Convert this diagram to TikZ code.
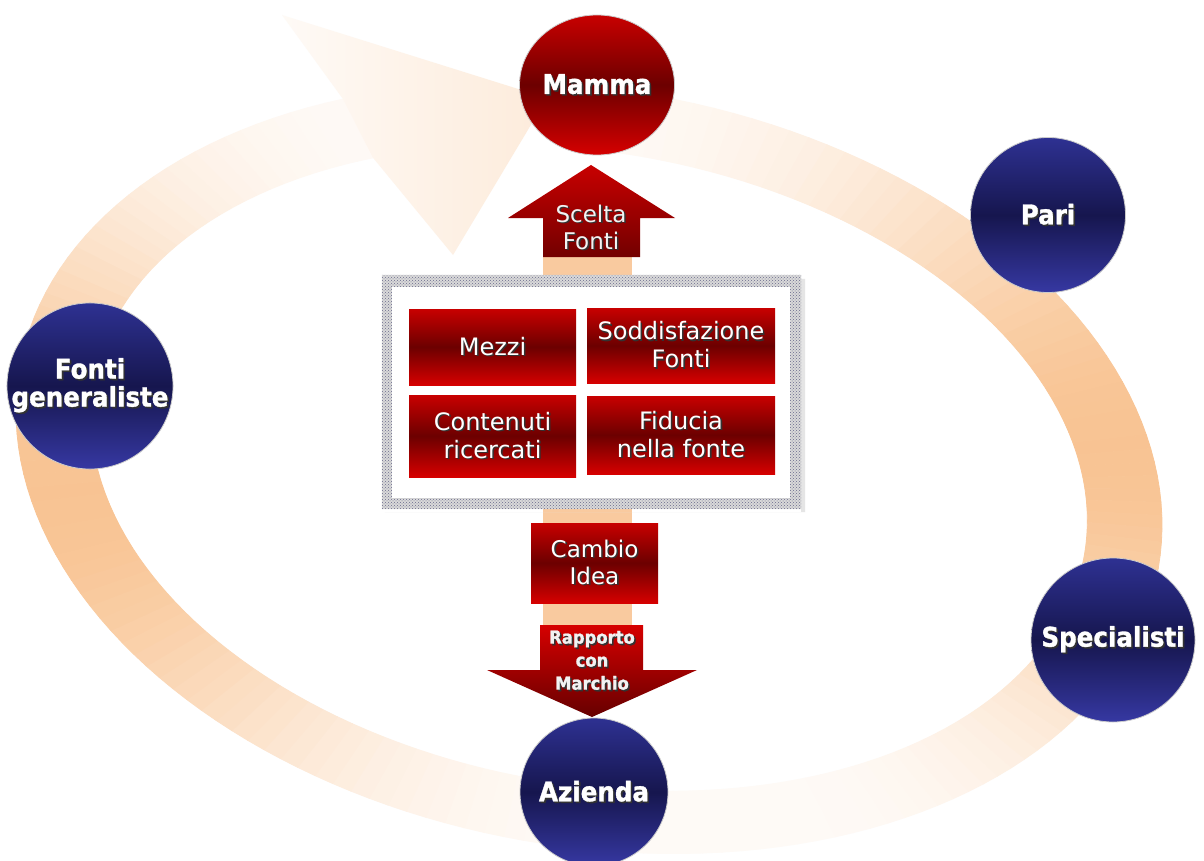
\documentclass[tikz,border=0pt]{standalone}
\usepackage{fontspec}
\setmainfont{DejaVu Sans}
\newfontfamily\hubfont[FakeStretch=0.91,BoldFeatures={FakeBold=1.2}]{DejaVu Sans}
\usepackage{tikz}
\usetikzlibrary{calc,shapes.geometric,patterns,positioning}
\definecolor{bandorange}{RGB}{248,193,142}
\definecolor{redtop}{RGB}{200,0,0}
\definecolor{redmid}{RGB}{108,0,0}
\definecolor{redbot}{RGB}{214,0,0}
\definecolor{bluetop}{RGB}{46,49,146}
\definecolor{bluemid}{RGB}{22,22,78}
\definecolor{bluebot}{RGB}{54,56,162}
\definecolor{dotgrey}{RGB}{105,105,140}
% white text with a dark shadow
\newcommand{\shd}[1]{\makebox[0pt][l]{\hspace{1.6pt}\raisebox{-1.6pt}{\color{black!80}#1}}#1}

\begin{document}
\begin{tikzpicture}[x=1pt,y=-1pt]

\tikzset{hub/.style={circle,minimum size=164pt,inner sep=0pt,align=center,text=white,draw=black!20,line width=0.8pt,font=\hubfont\bfseries\fontsize{27}{28}\selectfont,top color=bluetop,bottom color=bluebot,middle color=bluemid},
redhub/.style={hub,top color=redtop,bottom color=redbot,middle color=redmid},
factor/.style={rectangle,inner sep=0pt,align=center,text=white,font=\fontsize{24}{28}\selectfont,top color=redtop,bottom color=redbot,middle color=redmid},
arrowtext/.style={align=center,inner sep=0pt,text=white!95!black,font=\fontsize{23}{27}\selectfont},
bandslice/.style={fill=bandorange!#1!white,draw=bandorange!#1!white,line width=0.8pt,line join=round}}

\useasboundingbox (0,0) rectangle (1204,861);
\clip (0,0) rectangle (1204,861);
\fill[white] (0,0) rectangle (1204,861);

% Ring band
\begin{scope}[shift={(589,468)},rotate=-10]
\foreach \t in {-94,-92,...,236} {
  \pgfmathsetmacro\q{(1.002+cos(2*\t+40))/2}
  \pgfmathtruncatemacro\p{8+88*\q*sqrt(\q)}
  \fill[bandslice=\p] ({\t}:578 and 378) -- ({\t+2}:578 and 378) -- ({\t+2}:503 and 316) -- ({\t}:503 and 316) -- cycle;
}
\coordinate (bandout) at (238:578 and 378);
\coordinate (bandin) at (238:503 and 316);
\end{scope}

% Ring arrow head
\coordinate (barbout) at (282,15);
\coordinate (barbin) at (453,255);
\coordinate (ringtip) at (547,98);
\shade[left color=bandorange!8!white,right color=bandorange!32!white] (bandout) -- (barbout) -- (ringtip) -- (barbin) -- (bandin) -- cycle;

% Vertical bar behind the panel
\fill[bandorange!85!white] (543,250) rectangle (632,632);

% Central panel
\node (panel) [rectangle,fill=white,minimum width=419pt,minimum height=234pt,inner sep=0pt] at (591.5,392) {};
\fill[black!10] ([shift={(3,3)}]panel.south west) rectangle ([shift={(4,3)}]panel.south east) ([shift={(0,4)}]panel.north east) rectangle ([shift={(4,3)}]panel.south east);
\fill[black!15,even odd rule] (panel.north west) rectangle (panel.south east) ([shift={(10,12)}]panel.north west) rectangle ([shift={(-11,-11)}]panel.south east);
\fill[pattern=crosshatch dots,pattern color=dotgrey,even odd rule] (panel.north west) rectangle (panel.south east) ([shift={(10,12)}]panel.north west) rectangle ([shift={(-11,-11)}]panel.south east);

% Factors
\node (mezzi) [factor,minimum width=167pt,minimum height=76pt] at (492.5,347) {\shd{Mezzi}};
\node (soddisfazione) [factor,minimum width=188pt,minimum height=75pt] at (681,345.5) {\shd{Soddisfazione}\\\shd{Fonti}};
\node (contenuti) [factor,minimum width=167pt,minimum height=82pt] at (492.5,436) {\shd{Contenuti}\\\shd{ricercati}};
\node (fiducia) [factor,minimum width=188pt,minimum height=78pt] at (681,435) {\shd{Fiducia}\\\shd{nella fonte}};
\node (cambio) [factor,minimum width=127pt,minimum height=80pt,font=\fontsize{23}{27}\selectfont] at (594.5,563) {\shd{Cambio}\\\shd{Idea}};

% Arrows
\shade[top color=redtop,bottom color=red!45!black] (543,257) -- (543,218) -- (508,218) -- (591,165) -- (675,218) -- (640,218) -- (640,257) -- cycle;
\node (scelta) [arrowtext] at (591,228) {\shd{Scelta}\\\shd{Fonti}};
\shade[top color=redbot,bottom color=red!40!black] (540,625) -- (643,625) -- (643,670) -- (697,670) -- (592,717) -- (487,670) -- (540,670) -- cycle;
\node (rapporto) [arrowtext,font=\hubfont\bfseries\fontsize{18}{23}\selectfont] at (592,661) {\shd{Rapporto}\\\shd{con}\\\shd{Marchio}};

% Hubs
\node (mamma) [redhub,ellipse,minimum width=155pt,minimum height=140pt] at (597,85) {\shd{Mamma}};
\node (pari) [hub,minimum size=155pt] at (1048,215) {\shd{Pari}};
\node (specialisti) [hub] at (1113,640) {\shd{Specialisti}};
\node (azienda) [hub,minimum size=148pt] at (594,792) {\shd{Azienda}};
\node (fonti) [hub] at (90,386) {\shd{Fonti}\\\shd{generaliste}};

\end{tikzpicture}
\end{document}
